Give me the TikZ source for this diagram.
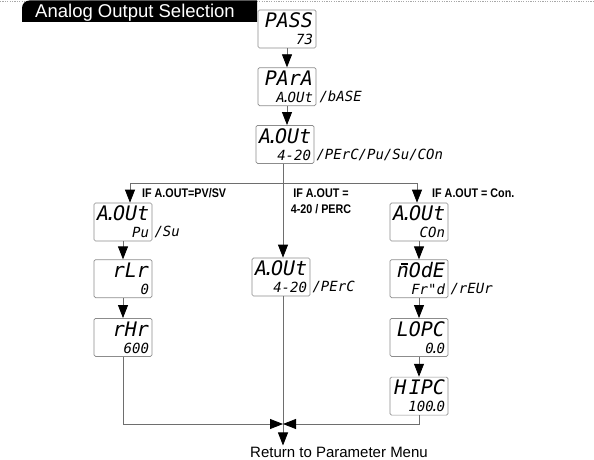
\documentclass[tikz,border=0pt]{standalone}
\usepackage{fontspec}
\setmainfont{Liberation Sans}
\newfontfamily\lcdfont{DejaVu Sans Mono}
\newfontfamily\condfont{Liberation Sans}[FakeStretch=0.86]
\usetikzlibrary{positioning, arrows.meta}

\definecolor{boxgray}{HTML}{8C8C8C}
\definecolor{linegray}{HTML}{6E6E6E}
\definecolor{dotgray}{HTML}{A8A8A8}

\newcommand{\lcdbig}{\lcdfont\itshape\fontsize{20}{17}\selectfont}
\newcommand{\lcdsmall}{\lcdfont\itshape\fontsize{14}{17}\selectfont}
\newcommand{\lcddot}{\kern-0.2em.\kern-0.2em}
\newcommand{\lcdbar}[1]{\ooalign{#1\cr\kern0.2em\rule[0.66em]{0.36em}{0.07em}\hidewidth\cr}}

\begin{document}
\begin{tikzpicture}[x=1pt, y=-1pt,
    lcd/.style={draw=boxgray, line width=0.7pt, rounded corners=1.5pt, minimum width=58pt, minimum height=38pt, text width=52pt, inner xsep=3pt, inner ysep=1pt, align=right, font=\lcdbig},
    side/.style={inner sep=1pt, font=\lcdsmall},
    cond/.style={inner sep=1pt, font=\condfont\bfseries\fontsize{12.5}{16}\selectfont},
    title/.style={inner sep=0pt, text=white, font=\fontsize{18.5}{20}\selectfont},
    ret/.style={inner sep=1pt, font=\fontsize{15}{18}\selectfont},
    conn/.style={draw=linegray, line width=0.8pt},
    arr/.style={conn, -{Triangle[width=10pt, length=13pt, color=black]}}
]
\useasboundingbox (0,0) rectangle (594,460);

% heading
\draw[dotgray, line width=0.6pt, dash pattern=on 1.2pt off 1.2pt] (0,1) -- (594,1);
\fill[black] (22,22) -- (22,8) arc[start angle=180, end angle=270, radius=7.5] -- (257,0.5) -- (257,22) -- cycle;
\node[title, anchor=base] (title) at (135,18) {Analog Output Selection};

% main column
\node[lcd] (pass) at (287,29) {PASS\\{\lcdsmall 73}};
\node[lcd, below=19pt of pass] (para) {PArA\\{\lcdsmall A\lcddot OUt}};
\node[lcd, below=19pt of para, xshift=-2pt] (aout) {A\lcddot OUt\\{\lcdsmall 4-20}};
\node[side, anchor=base west] (paraside) at ([xshift=2pt, yshift=4.5pt]para.south east) {/bASE};
\node[side, anchor=base west] (aoutside) at ([xshift=1pt, yshift=4.5pt]aout.south east) {/PErC/Pu/Su/COn};

\draw[arr] (pass.south) -- (pass.south |- para.north);
\draw[arr] (para.south) -- (para.south |- aout.north);

% branches
\coordinate (brL) at (130,183);
\coordinate (brM) at (283,183);
\coordinate (brR) at (417,183);
\draw[conn] (aout.south -| brM) -- (brM);
\draw[conn] (brL) -- (brR);

\node[cond, anchor=west] (condL) at (141,193) {IF A.OUT=PV/SV};
\node[cond, align=center] (condM) at (321,201) {IF A.OUT =\\4-20 / PERC};
\node[cond, anchor=west] (condR) at (431,193) {IF A.OUT = Con.};

% PV/SV
\node[lcd] (aoutL) at (123,222) {A\lcddot OUt\\{\lcdsmall Pu}};
\node[lcd, below=18pt of aoutL] (rlr) {rLr\\{\lcdsmall 0}};
\node[lcd, below=20pt of rlr] (rhr) {rHr\\{\lcdsmall 600}};
\node[side, anchor=base west] (aoutLside) at ([xshift=1pt, yshift=4.5pt]aoutL.south east) {/Su};

\draw[arr] (brL) -- (brL |- aoutL.north);
\draw[arr] (aoutL) -- (rlr);
\draw[arr] (rlr) -- (rhr);

% 4-20 / PERC
\node[lcd] (aoutM) at (281,277) {A\lcddot OUt\\{\lcdsmall 4-20}};
\node[side, anchor=base west] (aoutMside) at ([xshift=1pt, yshift=4.5pt]aoutM.south east) {/PErC};

\draw[arr] (brM) -- (brM |- aoutM.north);

% Con.
\node[lcd] (aoutR) at (419,222) {A\lcddot OUt\\{\lcdsmall COn}};
\node[lcd, below=18pt of aoutR] (mode) {\lcdbar{n}OdE\\{\lcdsmall Fr"d}};
\node[lcd, below=20pt of mode] (lopc) {LOPC\\{\lcdsmall 0\lcddot 0}};
\node[lcd, below=20pt of lopc] (hipc) {H\kern0.12em IPC\\{\lcdsmall 100\lcddot 0}};
\node[side, anchor=base west] (modeside) at ([xshift=1pt, yshift=4.5pt]mode.south east) {/rEUr};

\draw[arr] (brR) -- (brR |- aoutR.north);
\draw[arr] (aoutR) -- (mode);
\draw[arr] (mode) -- (lopc);
\draw[arr] (lopc) -- (hipc);

% back to menu
\node[ret, anchor=base] (ret) at (339,457) {Return to Parameter Menu};
\coordinate (join) at (brM |- 0,424);
\draw[arr] (aoutM.south -| brM) -- (brM |- ret.north);
\draw[arr] (rhr.south) |- (join);
\draw[arr] (hipc.south) |- (join);
\end{tikzpicture}
\end{document}
